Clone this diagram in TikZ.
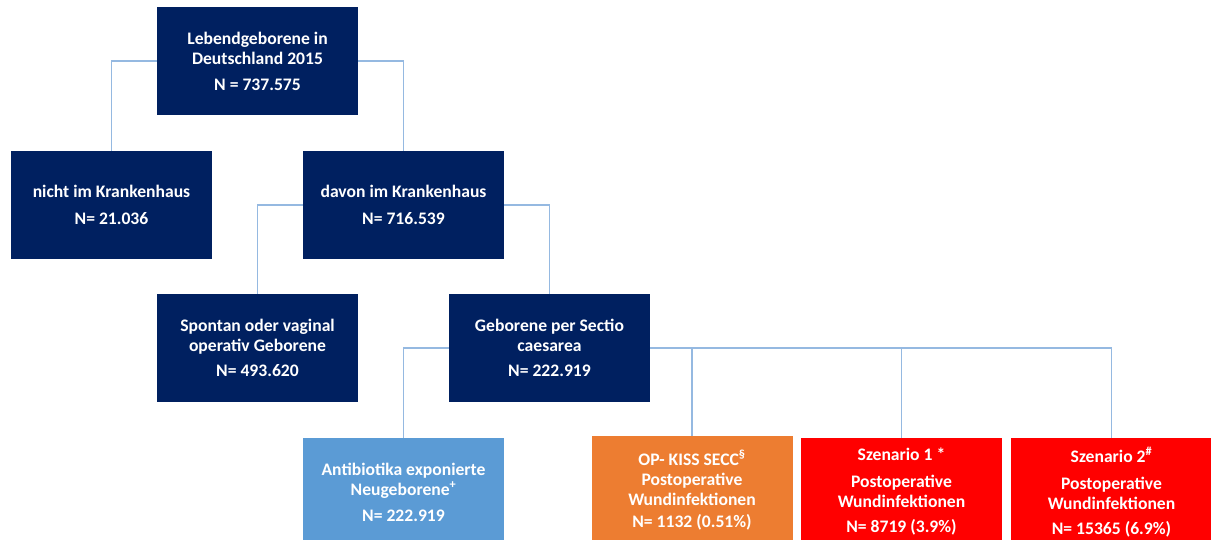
\documentclass[tikz,border=0pt]{standalone}
\usepackage{fontspec}
\setmainfont{Carlito}
\usetikzlibrary{calc}
\definecolor{navy}{RGB}{0,32,96}
\definecolor{lightblue}{RGB}{91,155,213}
\definecolor{orangebox}{RGB}{237,125,49}
\definecolor{redbox}{RGB}{255,0,0}
\definecolor{linkblue}{RGB}{149,185,225}
\begin{document}
\begin{tikzpicture}[x=1pt, y=-1pt,
  box/.style={fill=navy, text=white, minimum width=201pt, minimum height=108pt,
    inner sep=0pt, align=center, font=\fontsize{17.6}{20}\selectfont\bfseries},
  link/.style={draw=linkblue, line width=1.2pt}]
\useasboundingbox (0,0) rectangle (1211,539);
\clip (0,0) rectangle (1211,539);
% first and second row
\node[box] (lebend) at (257.5,61) {Lebendgeborene in\\Deutschland 2015\\[6pt]N = 737.575};
\node[box] (nicht) at (111.5,205) {nicht im Krankenhaus\\[7pt]N= 21.036};
\node[box] (davon) at (403.5,205) {davon im Krankenhaus\\[7pt]N= 716.539};
% third row
\node[box] (spontan) at (257.5,348) {Spontan oder vaginal\\operativ Geborene\\[5pt]N= 493.620};
\node[box] (sectio) at (549.5,348) {Geborene per Sectio\\caesarea\\[5pt]N= 222.919};
% fourth row
\node[box, fill=lightblue] (anti) at (403.5,492) {Antibiotika exponierte\\Neugeborene\textsuperscript{+}\\[6pt]N= 222.919};
\node[box, fill=orangebox] (opkiss) at (692,490) {OP- KISS SECC\textsuperscript{\S}\\Postoperative\\Wundinfektionen\\[2pt]N= 1132 (0.51\%)};
\node[box, fill=redbox] (szen1) at (901.5,492) {Szenario 1 *\\[7pt]Postoperative\\Wundinfektionen\\[5pt]N= 8719 (3.9\%)};
\node[box, fill=redbox] (szen2) at (1111.5,492) {Szenario 2\textsuperscript{\#}\\[7pt]Postoperative\\Wundinfektionen\\[5pt]N= 15365 (6.9\%)};
% connectors
\draw[link] (lebend.west) -| (nicht.north);
\draw[link] (lebend.east) -| (davon.north);
\draw[link] (davon.west) -| (spontan.north);
\draw[link] (davon.east) -| (sectio.north);
\draw[link] (sectio.west) -| (anti.north);
\draw[link] (sectio.east) -| (opkiss.north);
\draw[link] (sectio.east) -| (szen1.north);
\draw[link] (sectio.east) -| (szen2.north);
\end{tikzpicture}
\end{document}
